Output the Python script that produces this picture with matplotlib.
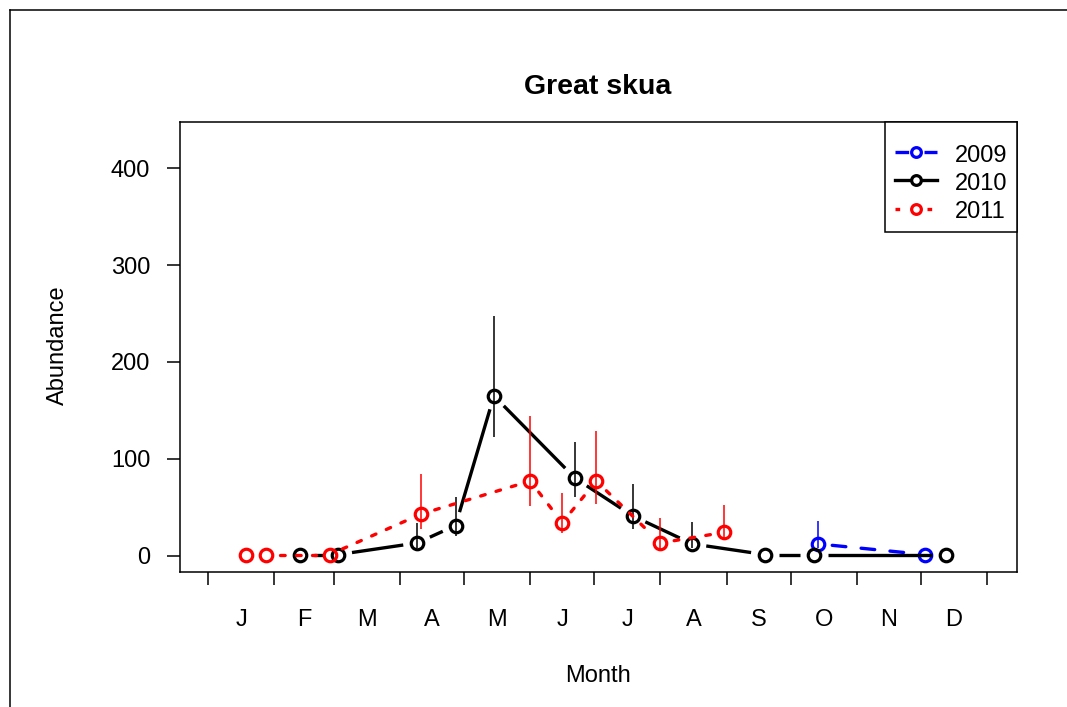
"""
Great skua abundance by month (2009-2011), R-style base plot
"""

import numpy as np
import matplotlib
matplotlib.use('Agg')
import matplotlib.pyplot as plt
from matplotlib.lines import Line2D

plt.rcParams['font.family'] = ['Liberation Sans', 'DejaVu Sans']

# month boundaries (day of year) and labels
month_edges = [0, 31, 59, 90, 120, 151, 181, 212, 243, 273, 304, 334, 365]
month_labels = ['J', 'F', 'M', 'A', 'M', 'J', 'J', 'A', 'S', 'O', 'N', 'D']
y_ticks = [0, 100, 200, 300, 400]

# 2009
day_2009 = [286, 336]
abund_2009 = [12, 1]
upper_2009 = [36, 1]
lower_2009 = [8, 1]

# 2010
day_2010 = [43, 61, 98, 116, 134, 172, 199, 227, 261, 284, 346]
abund_2010 = [1, 1, 13, 31, 165, 80, 41, 12, 1, 1, 1]
upper_2010 = [1, 1, 34, 61, 248, 117, 74, 35, 1, 1, 1]
lower_2010 = [1, 1, 8, 20, 123, 61, 27, 8, 1, 1, 1]

# 2011
day_2011 = [18, 27, 57, 100, 151, 166, 182, 212, 242]
abund_2011 = [1, 1, 1, 43, 77, 34, 77, 13, 24]
upper_2011 = [1, 1, 1, 84, 144, 65, 129, 39, 52]
lower_2011 = [1, 1, 1, 27, 51, 23, 53, 6, 16]


def draw_type_b(ax, x, y, color, dashes, gap=14, lw=2.4):
    """Lines with gaps around the points, like R's type='b'"""
    pts = ax.transData.transform(np.column_stack([x, y]))
    inv = ax.transData.inverted()
    for p0, p1 in zip(pts[:-1], pts[1:]):
        d = p1 - p0
        dist = np.hypot(*d)
        if dist <= 2 * gap:
            continue
        u = d / dist
        seg = inv.transform(np.array([p0 + u * gap, p1 - u * gap]))
        line, = ax.plot(seg[:, 0], seg[:, 1], color=color, lw=lw,
                        solid_capstyle='butt', dash_capstyle='round')
        if dashes is not None:
            line.set_dashes(dashes)


fig = plt.figure(figsize=(10.67, 7.07), dpi=100, facecolor='white')
ax = fig.add_axes([180 / 1067, 1 - 572 / 707, 837 / 1067, 450 / 707])
ax.set_xlim(-13.1, 379.1)
ax.set_ylim(-17, 448)

series = [
    (day_2009, abund_2009, upper_2009, lower_2009, 'blue', (4.1, 4.6), '2009'),
    (day_2010, abund_2010, upper_2010, lower_2010, 'black', None, '2010'),
    (day_2011, abund_2011, upper_2011, lower_2011, 'red', (1.4, 3.4), '2011'),
]

for x, y, up, lo, col, dash, name in series:
    draw_type_b(ax, x, y, col, dash)
    ax.vlines(x, lo, up, color=col, lw=1.1)
    ax.plot(x, y, 'o', ms=9, mfc='none', mec=col, mew=2.3, ls='none')

# axes styling
for s in ax.spines.values():
    s.set_linewidth(1.1)
ax.set_yticks(y_ticks)
ax.set_yticklabels([str(v) for v in y_ticks])
ax.set_xticks(month_edges)
ax.set_xticklabels([''] * len(month_edges))
mids = [(a + b) / 2 for a, b in zip(month_edges[:-1], month_edges[1:])]
ax.set_xticks(mids, minor=True)
ax.set_xticklabels(month_labels, minor=True)
ax.tick_params(axis='both', which='major', length=9.5, width=1.1,
               labelsize=17, pad=12)
ax.tick_params(axis='x', which='minor', length=0, labelsize=17, pad=27)

# legend (empty tiny title gives the extra top padding R has)
handles = []
for x, y, up, lo, col, dash, name in series:
    h = Line2D([], [], color=col, lw=2.4, marker='o', ms=7, mfc='white',
               mec=col, mew=2.3)
    if dash is not None:
        h.set_dashes(dash)
    handles.append(h)
leg = ax.legend(handles, ['2009', '2010', '2011'], loc='upper right',
                fontsize=17, frameon=True, fancybox=False, framealpha=1,
                edgecolor='black', borderaxespad=0, handlelength=1.8,
                handleheight=1.0, handletextpad=0.75, labelspacing=0.19,
                borderpad=0.4, title=' ', title_fontsize=6)
leg.get_frame().set_linewidth(1.1)

fig.text(598 / 1067, 1 - 87 / 707, 'Great skua', ha='center', va='center',
         fontsize=20.5, fontweight='bold')
fig.text(598 / 1067, 1 - 676 / 707, 'Month', ha='center', va='center',
         fontsize=17)
fig.text(58 / 1067, 1 - 345 / 707, 'Abundance', ha='center', va='center',
         rotation=90, fontsize=17)

# outer frame lines (top and left)
fig.add_artist(Line2D([10 / 1067, 1], [1 - 10 / 707, 1 - 10 / 707],
                      color='black', lw=1.1, transform=fig.transFigure))
fig.add_artist(Line2D([10 / 1067, 10 / 1067], [0, 1 - 10 / 707],
                      color='black', lw=1.1, transform=fig.transFigure))

fig.savefig('out.png', dpi=100, facecolor='white')
